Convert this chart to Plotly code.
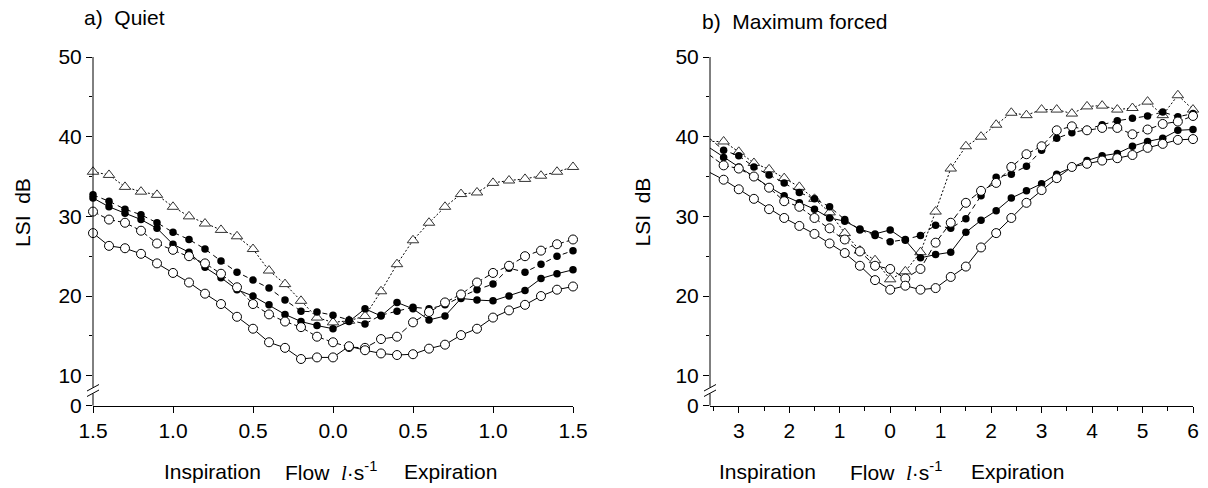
import plotly.graph_objects as go

# ---------------- data ----------------
# a) Quiet breathing: flow (l/s), inspiration negative
flow_quiet = [-1.5, -1.4, -1.3, -1.2, -1.1, -1.0, -0.9, -0.8, -0.7, -0.6, -0.5, -0.4, -0.3, -0.2, -0.1,
              0.0, 0.1, 0.2, 0.3, 0.4, 0.5, 0.6, 0.7, 0.8, 0.9, 1.0, 1.1, 1.2, 1.3, 1.4, 1.5]
quiet_tri = [35.6, 35.2, 33.7, 33.1, 32.7, 31.2, 30.0, 29.1, 28.3, 27.5, 25.9, 23.2, 21.5, 19.4, 17.3,
             16.7, 16.9, 17.5, 20.6, 24.0, 27.0, 29.2, 31.2, 32.8, 33.0, 34.2, 34.5, 34.7, 35.1, 35.6, 36.2]
quiet_filled_dash = [32.7, 31.9, 30.9, 30.2, 29.2, 28.0, 27.1, 25.9, 24.4, 23.0, 22.0, 21.0, 19.5, 18.1, 18.0,
                     17.6, 17.0, 16.5, 17.6, 18.1, 18.6, 18.4, 18.9, 19.9, 20.8, 21.5, 23.5, 23.0, 24.0, 25.0, 25.7]
quiet_filled_solid = [32.3, 31.2, 30.4, 29.6, 28.5, 26.5, 25.5, 23.6, 22.3, 20.8, 20.0, 18.9, 17.7, 16.8, 16.3,
                      15.9, 16.8, 18.4, 17.5, 19.2, 18.4, 17.0, 17.5, 19.7, 19.5, 19.4, 20.0, 20.7, 22.2, 22.8, 23.3]
quiet_open_dash = [30.6, 29.6, 29.2, 28.2, 26.6, 25.8, 25.0, 24.1, 22.8, 21.1, 19.0, 17.7, 16.8, 16.1, 14.9,
                   14.2, 13.6, 13.5, 14.6, 14.9, 16.7, 18.0, 19.2, 20.2, 21.7, 22.9, 23.8, 25.0, 25.7, 26.5, 27.1]
quiet_open_solid = [27.9, 26.3, 26.0, 25.3, 24.1, 22.9, 21.7, 20.3, 19.0, 17.4, 15.9, 14.2, 13.5, 12.1, 12.3,
                    12.3, 13.7, 13.2, 12.8, 12.6, 12.7, 13.4, 13.9, 15.1, 15.9, 17.3, 18.2, 18.9, 20.0, 20.8, 21.2]

# b) Maximum forced breathing
flow_forced = [-3.6, -3.3, -3.0, -2.7, -2.4, -2.1, -1.8, -1.5, -1.2, -0.9, -0.6, -0.3, 0.0, 0.3, 0.6, 0.9,
               1.2, 1.5, 1.8, 2.1, 2.4, 2.7, 3.0, 3.3, 3.6, 3.9, 4.2, 4.5, 4.8, 5.1, 5.4, 5.7, 6.0]
forced_tri = [39.4, 39.4, 38.1, 36.7, 35.9, 34.8, 33.7, 32.2, 30.5, 27.9, 25.7, 24.5, 22.1, 23.1, 25.5, 30.6,
              36.0, 38.8, 40.0, 41.5, 43.0, 42.7, 43.4, 43.4, 42.9, 43.8, 43.9, 43.4, 43.6, 44.4, 42.7, 45.2, 43.4]
forced_filled_dash = [39.9, 38.3, 37.6, 36.2, 35.2, 34.2, 33.0, 32.2, 31.2, 29.6, 28.3, 27.6, 26.8, 27.1, 27.6, 28.9,
                      28.5, 29.7, 32.6, 34.9, 35.3, 36.3, 38.3, 39.8, 40.5, 40.9, 41.5, 42.0, 42.3, 42.6, 43.1, 42.5, 42.9]
forced_filled_solid = [38.7, 37.4, 36.2, 35.0, 33.7, 32.6, 31.7, 30.9, 29.8, 29.4, 28.4, 27.8, 28.3, 27.0, 24.8, 25.2,
                       25.5, 28.0, 29.5, 30.7, 32.3, 33.2, 34.1, 35.3, 36.2, 37.0, 37.6, 37.9, 38.8, 39.4, 39.8, 40.8, 40.9]
forced_open_dash = [37.8, 36.4, 36.0, 35.0, 33.6, 31.9, 31.2, 29.8, 28.5, 27.1, 25.6, 23.8, 23.4, 22.2, 23.4, 26.7,
                    29.2, 31.7, 33.2, 34.2, 36.2, 37.8, 38.8, 40.8, 41.3, 40.8, 41.1, 41.1, 40.3, 40.9, 41.6, 41.9, 42.6]
forced_open_solid = [35.6, 34.6, 33.4, 32.2, 30.9, 29.8, 28.8, 27.8, 26.6, 25.4, 23.8, 22.0, 20.8, 21.3, 20.8, 21.0,
                     22.4, 23.7, 26.1, 27.9, 29.8, 31.7, 33.3, 34.8, 36.2, 36.6, 37.0, 37.3, 37.7, 38.6, 39.1, 39.6, 39.7]

quiet_ticks = [-1.5, -1.0, -0.5, 0.0, 0.5, 1.0, 1.5]
quiet_ticktext = ["1.5", "1.0", "0.5", "0.0", "0.5", "1.0", "1.5"]
forced_ticks = [-3, -2, -1, 0, 1, 2, 3, 4, 5, 6]
forced_ticktext = ["3", "2", "1", "0", "1", "2", "3", "4", "5", "6"]
forced_minor = [-3.5, -2.5, -1.5, -0.5, 0.5, 1.5, 2.5, 3.5, 4.5, 5.5]
y_zero = 6.24   # position where the broken axis shows "0"
y_ticks = [y_zero, 10, 20, 30, 40, 50]
y_ticktext = ["0", "10", "20", "30", "40", "50"]
y_minor = [15, 25, 35, 45]

# ---------------- figure ----------------
W, H = 1208, 488
def px(x): return x / W
def py(y): return 1 - y / H

FONT = "Liberation Sans, Arial, Helvetica, sans-serif"
FS = 21

styles = {
    "open_solid": dict(symbol="circle", size=9, color="white", line=dict(color="black", width=1)),
    "open_dash": dict(symbol="circle", size=9, color="white", line=dict(color="black", width=1)),
    "filled_solid": dict(symbol="circle", size=7.5, color="black", line=dict(color="black", width=0)),
    "filled_dash": dict(symbol="circle", size=7.5, color="black", line=dict(color="black", width=0)),
    "tri": dict(symbol="triangle-up", size=10, color="white", line=dict(color="#333333", width=1)),
}
dashes = {"open_solid": "solid", "open_dash": "6px,3px", "filled_solid": "solid",
          "filled_dash": "5px,4px", "tri": "2px,2px"}

fig = go.Figure()

panels = [
    ("x", "y", flow_quiet, dict(open_solid=quiet_open_solid, open_dash=quiet_open_dash,
                                 filled_solid=quiet_filled_solid, filled_dash=quiet_filled_dash,
                                 tri=quiet_tri)),
    ("x2", "y2", flow_forced, dict(open_solid=forced_open_solid, open_dash=forced_open_dash,
                                    filled_solid=forced_filled_solid, filled_dash=forced_filled_dash,
                                    tri=forced_tri)),
]
for xa, ya, xs, series in panels:
    for key in ["tri", "filled_dash", "filled_solid", "open_dash", "open_solid"]:
        fig.add_trace(go.Scatter(
            x=xs, y=series[key], xaxis=xa, yaxis=ya, mode="lines+markers",
            line=dict(color="black", width=1, dash=dashes[key]),
            marker=styles[key], cliponaxis=False, showlegend=False, hoverinfo="skip"))

ydom = [py(405.7), py(57)]
axis_common = dict(showgrid=False, zeroline=False, ticks="outside", ticklen=6, tickwidth=1,
                   tickcolor="black", automargin=False,
                   tickfont=dict(family=FONT, size=FS, color="black"))

fig.update_layout(
    template="none",
    width=W, height=H, margin=dict(l=0, r=0, t=0, b=0, pad=0), autosize=False,
    paper_bgcolor="white", plot_bgcolor="white",
    xaxis=dict(domain=[px(93), px(573)], range=[-1.5, 1.5], anchor="y",
               tickmode="array", tickvals=quiet_ticks, ticktext=quiet_ticktext,
               showline=True, linecolor="black", linewidth=1, **axis_common),
    yaxis=dict(domain=ydom, range=[y_zero, 50], anchor="x", showline=False,
               tickmode="array", tickvals=y_ticks, ticktext=y_ticktext,
               minor=dict(tickmode="array", tickvals=y_minor, ticks="outside", ticklen=3,
                          tickcolor="black", tickwidth=1, showgrid=False),
               **axis_common),
    xaxis2=dict(domain=[px(710), px(1193)], range=[-3.57, 6.0], anchor="y2",
                tickmode="array", tickvals=forced_ticks, ticktext=forced_ticktext,
                minor=dict(tickmode="array", tickvals=forced_minor, ticks="outside", ticklen=4,
                           tickcolor="black", tickwidth=1, showgrid=False),
                showline=True, linecolor="black", linewidth=1, **axis_common),
    yaxis2=dict(domain=ydom, range=[y_zero, 50], anchor="x2", showline=False,
                tickmode="array", tickvals=y_ticks, ticktext=y_ticktext,
                minor=dict(tickmode="array", tickvals=y_minor, ticks="outside", ticklen=3,
                           tickcolor="black", tickwidth=1, showgrid=False),
                **axis_common),
)

# broken y-axis lines and break marks
shapes = []
for ax_x in (93, 710):
    shapes.append(dict(type="line", xref="paper", yref="paper", x0=px(ax_x), x1=px(ax_x),
                       y0=py(57), y1=py(387.5), line=dict(color="black", width=1)))
    shapes.append(dict(type="line", xref="paper", yref="paper", x0=px(ax_x), x1=px(ax_x),
                       y0=py(393.5), y1=py(405.7), line=dict(color="black", width=1)))
    for dy in (0, 5.5):
        shapes.append(dict(type="line", xref="paper", yref="paper",
                           x0=px(ax_x - 6), x1=px(ax_x + 6),
                           y0=py(391 + dy), y1=py(384.5 + dy), line=dict(color="black", width=1)))
fig.update_layout(shapes=shapes)

ann_font = dict(family=FONT, size=FS, color="black")
serif_l = "<span style='font-family:Liberation Serif, Times New Roman, serif'><i>l</i></span>"
anns = [
    dict(text="a)  Quiet", x=px(82), y=py(18), xanchor="left", yanchor="middle"),
    dict(text="b)  Maximum forced", x=px(700), y=py(21), xanchor="left", yanchor="middle"),
    dict(text="LSI  dB", x=px(22.5), y=py(212.5), xanchor="center", yanchor="middle", textangle=-90),
    dict(text="LSI  dB", x=px(642), y=py(212.5), xanchor="center", yanchor="middle", textangle=-90),
    dict(text="Inspiration", x=px(212.5), y=py(471), xanchor="center", yanchor="middle"),
    dict(text="Flow  " + serif_l + "·s<sup>-1</sup>", x=px(283), y=py(471), xanchor="left", yanchor="middle"),
    dict(text="Expiration", x=px(450), y=py(471), xanchor="center", yanchor="middle"),
    dict(text="Inspiration", x=px(767.5), y=py(471), xanchor="center", yanchor="middle"),
    dict(text="Flow  " + serif_l + "·s<sup>-1</sup>", x=px(848), y=py(471), xanchor="left", yanchor="middle"),
    dict(text="Expiration", x=px(1017.5), y=py(471), xanchor="center", yanchor="middle"),
]
for a in anns:
    a.update(xref="paper", yref="paper", showarrow=False, font=ann_font)
fig.update_layout(annotations=anns)

fig.write_html("out.html",
               config={"displayModeBar": False, "staticPlot": True},
               post_script="document.body.style.margin='0';document.body.style.padding='0';"
                           "document.documentElement.style.overflow='hidden';")
